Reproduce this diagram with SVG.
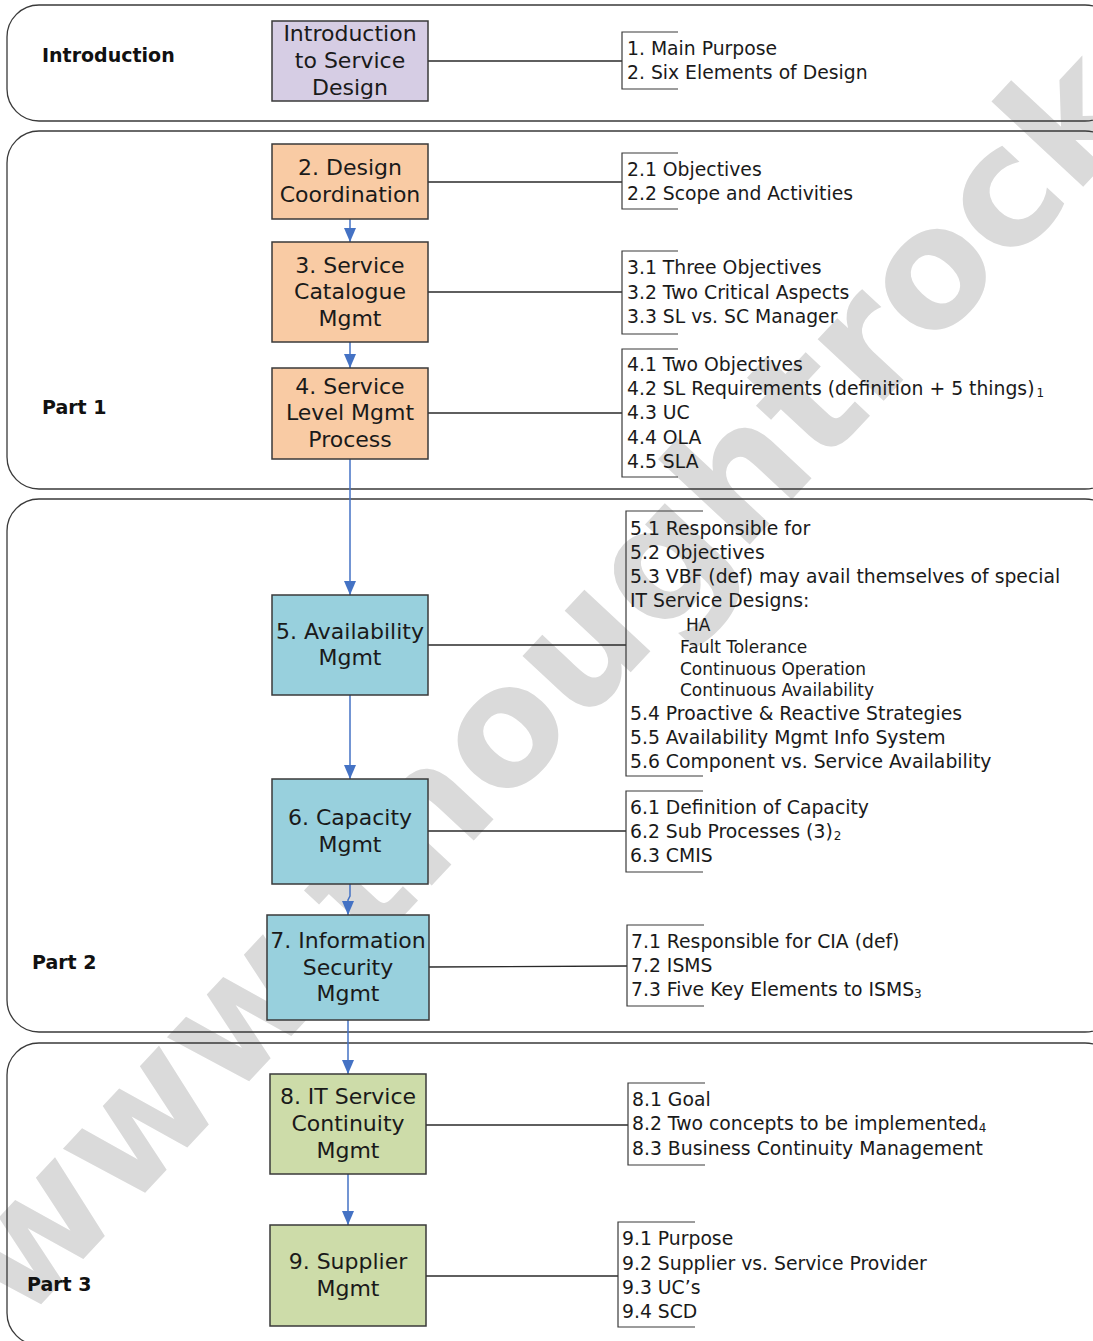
<svg xmlns="http://www.w3.org/2000/svg" width="1093" height="1341" viewBox="0 0 1093 1341">
<defs>
<style>
.wm{font-family:"DejaVu Sans","Noto Sans",sans-serif;font-weight:bold;font-size:165px;fill:#dadada}
.sec{fill:none;stroke:#3a3a3a;stroke-width:1.3}
.lab{font-family:"DejaVu Sans","Noto Sans",sans-serif;font-weight:bold;font-size:19px;fill:#111}
.node rect{stroke:#3a3a3a;stroke-width:1.5}
.nt{font-family:"DejaVu Sans","Noto Sans",sans-serif;font-size:22px;fill:#1a1a1a;text-anchor:middle}
.it{font-family:"DejaVu Sans","Noto Sans",sans-serif;font-size:18.8px;fill:#1a1a1a}
.sm{font-size:17px}
.sub{font-size:12px}
.br{fill:none;stroke:#3a3a3a;stroke-width:1.2}
.ln{stroke:#2a2a2a;stroke-width:1.3;fill:none}
.ar{stroke:#4472c4;stroke-width:1.5;fill:none;marker-end:url(#ah)}
.purple{fill:#d6cde4}
.peach{fill:#f9cba4}
.blue{fill:#98d0dd}
.green{fill:#cddca9}
</style>
<marker id="ah" markerUnits="userSpaceOnUse" markerWidth="14" markerHeight="12" viewBox="0 0 14 12" refX="14" refY="6" orient="auto">
<path d="M0,0 L14,6 L0,12 Z" fill="#4472c4"/>
</marker>
</defs>

<g id="watermark">
<text class="wm" transform="translate(21,1326) rotate(-47)">www.thoughtrock.net</text>
</g>

<g id="sections">
<rect class="sec" x="7" y="5" width="1110" height="116" rx="32"/>
<rect class="sec" x="7" y="131" width="1110" height="358" rx="32"/>
<rect class="sec" x="7" y="499" width="1110" height="533" rx="32"/>
<rect class="sec" x="7" y="1043" width="1110" height="302" rx="32"/>
<text class="lab" x="42" y="62">Introduction</text>
<text class="lab" x="42" y="414">Part 1</text>
<text class="lab" x="32" y="969">Part 2</text>
<text class="lab" x="27" y="1291">Part 3</text>
</g>

<g id="connectors">
<line class="ln" x1="428" y1="61" x2="622" y2="61"/>
<line class="ln" x1="428" y1="182" x2="622" y2="182"/>
<line class="ln" x1="428" y1="292" x2="622" y2="292"/>
<line class="ln" x1="428" y1="413" x2="622" y2="413"/>
<line class="ln" x1="428" y1="645" x2="626" y2="645"/>
<line class="ln" x1="428" y1="831" x2="626" y2="831"/>
<line class="ln" x1="429" y1="967" x2="627" y2="966"/>
<line class="ln" x1="426" y1="1125" x2="628" y2="1125"/>
<line class="ln" x1="426" y1="1276" x2="618" y2="1276"/>
<line class="ar" x1="350" y1="219" x2="350" y2="242"/>
<line class="ar" x1="350" y1="342" x2="350" y2="368"/>
<line class="ar" x1="350" y1="459" x2="350" y2="595"/>
<line class="ar" x1="350" y1="695" x2="350" y2="779"/>
<path class="ar" d="M350,884 L350,896 L348,900 L348,915"/>
<line class="ar" x1="348" y1="1020" x2="348" y2="1074"/>
<line class="ar" x1="348" y1="1174" x2="348" y2="1225"/>
</g>

<g id="node-intro" class="node">
<rect class="purple" x="272" y="21" width="156" height="80"/>
<text class="nt" x="350" y="41">Introduction</text>
<text class="nt" x="350" y="68">to Service</text>
<text class="nt" x="350" y="95">Design</text>
</g>
<g id="node-2" class="node">
<rect class="peach" x="272" y="144" width="156" height="75"/>
<text class="nt" x="350" y="175">2. Design</text>
<text class="nt" x="350" y="202">Coordination</text>
</g>
<g id="node-3" class="node">
<rect class="peach" x="272" y="242" width="156" height="100"/>
<text class="nt" x="350" y="273">3. Service</text>
<text class="nt" x="350" y="299">Catalogue</text>
<text class="nt" x="350" y="326">Mgmt</text>
</g>
<g id="node-4" class="node">
<rect class="peach" x="272" y="368" width="156" height="91"/>
<text class="nt" x="350" y="394">4. Service</text>
<text class="nt" x="350" y="420">Level Mgmt</text>
<text class="nt" x="350" y="447">Process</text>
</g>
<g id="node-5" class="node">
<rect class="blue" x="272" y="595" width="156" height="100"/>
<text class="nt" x="350" y="639">5. Availability</text>
<text class="nt" x="350" y="665">Mgmt</text>
</g>
<g id="node-6" class="node">
<rect class="blue" x="272" y="779" width="156" height="105"/>
<text class="nt" x="350" y="825">6. Capacity</text>
<text class="nt" x="350" y="852">Mgmt</text>
</g>
<g id="node-7" class="node">
<rect class="blue" x="267" y="915" width="162" height="105"/>
<text class="nt" x="348" y="948">7. Information</text>
<text class="nt" x="348" y="975">Security</text>
<text class="nt" x="348" y="1001">Mgmt</text>
</g>
<g id="node-8" class="node">
<rect class="green" x="270" y="1074" width="156" height="100"/>
<text class="nt" x="348" y="1104">8. IT Service</text>
<text class="nt" x="348" y="1131">Continuity</text>
<text class="nt" x="348" y="1158">Mgmt</text>
</g>
<g id="node-9" class="node">
<rect class="green" x="270" y="1225" width="156" height="101"/>
<text class="nt" x="348" y="1269">9. Supplier</text>
<text class="nt" x="348" y="1296">Mgmt</text>
</g>

<g id="list-intro">
<path class="br" d="M678,32 H622 V89 H678"/>
<text class="it" x="627" y="55">1. Main Purpose</text>
<text class="it" x="627" y="79">2. Six Elements of Design</text>
</g>
<g id="list-2">
<path class="br" d="M678,153 H622 V209 H678"/>
<text class="it" x="627" y="176">2.1 Objectives</text>
<text class="it" x="627" y="200">2.2 Scope and Activities</text>
</g>
<g id="list-3">
<path class="br" d="M678,251 H622 V334 H678"/>
<text class="it" x="627" y="274">3.1 Three Objectives</text>
<text class="it" x="627" y="299">3.2 Two Critical Aspects</text>
<text class="it" x="627" y="323">3.3 SL vs. SC Manager</text>
</g>
<g id="list-4">
<path class="br" d="M678,349 H622 V477 H678"/>
<text class="it" x="627" y="371">4.1 Two Objectives</text>
<text class="it" x="627" y="395">4.2 SL Requirements (definition + 5 things)<tspan class="sub" dx="2" dy="2">1</tspan></text>
<text class="it" x="627" y="419">4.3 UC</text>
<text class="it" x="627" y="444">4.4 OLA</text>
<text class="it" x="627" y="468">4.5 SLA</text>
</g>
<g id="list-5">
<path class="br" d="M703,511 H626 V776 H703"/>
<text class="it" x="630" y="535">5.1 Responsible for</text>
<text class="it" x="630" y="559">5.2 Objectives</text>
<text class="it" x="630" y="583">5.3 VBF (def) may avail themselves of special</text>
<text class="it" x="630" y="607">IT Service Designs:</text>
<text class="it sm" x="686" y="631">HA</text>
<text class="it sm" x="680" y="653">Fault Tolerance</text>
<text class="it sm" x="680" y="675">Continuous Operation</text>
<text class="it sm" x="680" y="696">Continuous Availability</text>
<text class="it" x="630" y="720">5.4 Proactive &amp; Reactive Strategies</text>
<text class="it" x="630" y="744">5.5 Availability Mgmt Info System</text>
<text class="it" x="630" y="768">5.6 Component vs. Service Availability</text>
</g>
<g id="list-6">
<path class="br" d="M703,791 H626 V872 H703"/>
<text class="it" x="630" y="814">6.1 Definition of Capacity</text>
<text class="it" x="630" y="838">6.2 Sub Processes (3)<tspan class="sub" dx="1" dy="2">2</tspan></text>
<text class="it" x="630" y="862">6.3 CMIS</text>
</g>
<g id="list-7">
<path class="br" d="M704,925 H627 V1006 H704"/>
<text class="it" x="631" y="948">7.1 Responsible for CIA (def)</text>
<text class="it" x="631" y="972">7.2 ISMS</text>
<text class="it" x="631" y="996">7.3 Five Key Elements to ISMS<tspan class="sub" dy="2">3</tspan></text>
</g>
<g id="list-8">
<path class="br" d="M705,1083 H628 V1165 H705"/>
<text class="it" x="632" y="1106">8.1 Goal</text>
<text class="it" x="632" y="1130">8.2 Two concepts to be implemented<tspan class="sub" dy="2">4</tspan></text>
<text class="it" x="632" y="1155">8.3 Business Continuity Management</text>
</g>
<g id="list-9">
<path class="br" d="M695,1222 H618 V1327 H695"/>
<text class="it" x="622" y="1245">9.1 Purpose</text>
<text class="it" x="622" y="1270">9.2 Supplier vs. Service Provider</text>
<text class="it" x="622" y="1294">9.3 UC’s</text>
<text class="it" x="622" y="1318">9.4 SCD</text>
</g>
</svg>
